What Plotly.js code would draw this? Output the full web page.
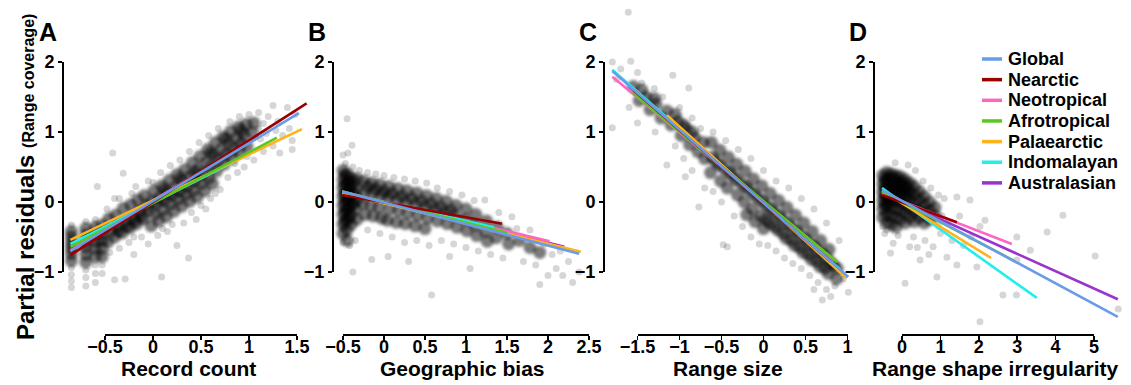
<!DOCTYPE html>
<html><head><meta charset="utf-8">
<script src="https://cdn.plot.ly/plotly-3.0.1.min.js"></script>
<style>html,body{margin:0;padding:0;background:#fff}#chart{width:1131px;height:385px}</style>
</head><body><div id="chart"></div>
<script>
// ---------------- DATA ----------------
const regions = ['Global','Nearctic','Neotropical','Afrotropical','Palaearctic','Indomalayan','Australasian'];
const panelLetters = ['A','B','C','D'];
const xTitles = ['Record count','Geographic bias','Range size','Range shape irregularity'];
const yTitleMain = 'Partial residuals';
const yTitleSub = '(Range coverage)';
const yTicks = [-1, 0, 1, 2];
const xTicksA = [-0.5, 0, 0.5, 1, 1.5];
const xTicksB = [-0.5, 0, 0.5, 1, 1.5, 2, 2.5];
const xTicksC = [-1.5, -1, -0.5, 0, 0.5, 1];
const xTicksD = [0, 1, 2, 3, 4, 5];

// fitted lines: [x start, x end] and [y start, y end] per region (same order as regions)
const fitA_x = [[-0.86,1.52],[-0.86,1.60],[-0.86,1.00],[-0.86,1.29],[-0.86,1.55],[-0.86,0.84],[-0.86,1.10]];
const fitA_y = [[-0.70,1.27],[-0.76,1.41],[-0.69,0.85],[-0.64,0.92],[-0.54,1.04],[-0.60,0.57],[-0.70,0.93]];
const fitB_x = [[-0.51,2.38],[-0.51,1.44],[-0.51,2.02],[-0.51,1.50],[-0.51,2.40],[-0.51,1.34],[-0.51,2.20]];
const fitB_y = [[0.15,-0.74],[0.10,-0.31],[0.14,-0.56],[0.15,-0.44],[0.13,-0.71],[0.13,-0.36],[0.15,-0.64]];
const fitC_x = [[-1.80,1.01],[-1.55,0.80],[-1.80,0.85],[-1.56,0.88],[-1.15,0.99],[-1.80,0.90],[-1.50,0.90]];
const fitC_y = [[1.87,-1.07],[1.60,-0.85],[1.79,-0.84],[1.56,-0.86],[1.24,-1.09],[1.89,-0.95],[1.55,-0.95]];
const fitD_x = [[-0.52,5.62],[-0.52,1.43],[-0.52,2.86],[-0.52,2.92],[-0.52,2.32],[-0.52,3.51],[-0.52,5.62]];
const fitD_y = [[0.17,-1.64],[0.10,-0.29],[0.12,-0.60],[0.15,-0.84],[0.16,-0.80],[0.20,-1.37],[0.13,-1.39]];

// partial residual points (dense core and sparse halo), [x, y]
const coreA = [[-0.85,-0.42],[-0.85,-0.50],[-0.85,-0.58],[-0.85,-0.66],[-0.85,-0.74],[-0.85,-0.84],
[-0.70,-0.38],[-0.70,-0.47],[-0.70,-0.56],[-0.70,-0.65],[-0.70,-0.75],[-0.70,-0.86],
[-0.60,-0.36],[-0.60,-0.46],[-0.60,-0.56],[-0.60,-0.66],[-0.60,-0.78],
[-0.53,-0.33],[-0.53,-0.44],[-0.53,-0.55],[-0.53,-0.66],[-0.53,-0.78],
[-0.46,-0.24],[-0.44,-0.41],[-0.47,-0.57],[-0.39,-0.19],[-0.37,-0.34],[-0.40,-0.50],
[-0.31,-0.09],[-0.29,-0.27],[-0.32,-0.44],[-0.23,-0.04],[-0.21,-0.21],[-0.24,-0.37],
[-0.16,0.03],[-0.14,-0.13],[-0.17,-0.31],[-0.09,0.09],[-0.07,-0.05],[-0.10,-0.24],
[0.01,0.16],[-0.01,0.01],[0.02,-0.17],[-0.02,-0.34],[0.09,0.23],[0.07,0.06],[0.10,-0.11],[0.06,-0.27],
[0.17,0.31],[0.15,0.13],[0.18,-0.03],[0.14,-0.21],[0.25,0.39],[0.23,0.21],[0.26,0.04],[0.22,-0.13],
[0.33,0.46],[0.31,0.29],[0.34,0.11],[0.30,-0.06],[0.41,0.56],[0.39,0.37],[0.42,0.17],[0.38,0.01],
[0.49,0.65],[0.47,0.46],[0.50,0.26],[0.46,0.07],[0.57,0.75],[0.55,0.56],[0.58,0.34],[0.54,0.16],
[0.65,0.85],[0.63,0.67],[0.66,0.44],[0.62,0.26],[0.73,0.93],[0.71,0.75],[0.74,0.54],
[0.81,1.01],[0.79,0.83],[0.82,0.63],[0.89,1.07],[0.87,0.91],[0.90,0.71],
[0.97,1.11],[0.95,0.96],[0.98,0.79],[1.05,1.13],[1.03,0.99],
[-0.36,-0.42],[-0.27,-0.35],[-0.19,-0.27],[-0.12,-0.20],[-0.04,-0.12],[0.04,-0.02],[0.12,0.02],[0.20,0.10],
[0.28,0.15],[0.36,0.22],[0.44,0.30],[0.52,0.40],[0.60,0.50],[0.68,0.60],[0.76,0.68],[0.84,0.76],[0.92,0.84],
[0.12,0.18],[0.28,0.33],[0.44,0.42],[0.60,0.70],[0.76,0.90],[0.92,1.02]];
const haloA = [[-0.85,-0.94],[-0.85,-1.04],[-0.85,-1.13],[-0.85,-1.22],[-0.70,-0.97],[-0.70,-1.08],[-0.70,-1.20],
[-0.60,-0.90],[-0.60,-1.02],[-0.60,-1.15],[-0.53,-0.90],[-0.53,-1.02],[-0.85,-0.33],[-0.70,-0.28],[-0.60,-0.25],
[-0.58,0.22],[-0.42,0.70],[-0.31,0.41],[-0.45,-0.72],[-0.40,-1.11],[-0.29,-1.10],[-0.35,-0.66],
[-0.25,-0.58],[-0.20,-0.75],[-0.12,-0.50],[-0.05,-0.60],[0.09,-1.07],[0.05,-0.48],[0.15,-0.42],[0.25,-0.62],
[0.37,-0.80],[0.32,-0.30],[0.45,-0.25],[0.55,-0.10],[0.60,0.05],[0.70,0.18],[0.78,0.35],[0.88,0.42],
[0.95,0.50],[1.05,0.60],[1.15,0.72],[1.25,0.80],[1.35,0.95],[1.45,0.88],[1.42,1.05],[1.30,1.15],
[1.20,1.22],[1.10,1.28],[1.00,1.25],[0.90,1.22],[0.80,1.15],[0.68,1.05],[0.58,0.95],[0.48,0.85],
[0.38,0.72],[0.28,0.60],[0.18,0.52],[0.08,0.42],[-0.05,0.30],[-0.18,0.22],[-0.35,0.05],
[1.40,1.35],[1.48,1.25],[1.25,1.38],[1.12,0.90],[1.32,0.70],[1.45,0.75],[0.98,0.65],
[-0.48,-0.10],[-0.40,0.05],[-0.22,0.12],[0.00,0.28],[0.20,-0.32],[0.40,-0.15],[0.65,0.12],[0.85,0.55],
[1.10,1.05],[1.18,0.98],[1.28,1.02],[1.15,1.12],[-0.20,-0.50],[0.10,-0.38],[0.50,-0.05]];

const coreB = [[-0.50,0.45],[-0.50,0.32],[-0.50,0.20],[-0.50,0.08],[-0.50,-0.05],[-0.50,-0.18],[-0.50,-0.32],[-0.50,-0.45],
[-0.45,0.40],[-0.45,0.27],[-0.45,0.14],[-0.45,0.02],[-0.45,-0.12],[-0.45,-0.26],[-0.45,-0.40],[-0.45,-0.55],
[-0.40,0.35],[-0.40,0.22],[-0.40,0.09],[-0.40,-0.04],[-0.40,-0.18],[-0.40,-0.32],
[-0.33,0.33],[-0.34,0.18],[-0.32,0.04],[-0.35,-0.10],[-0.33,-0.25],
[-0.25,0.30],[-0.24,0.14],[-0.26,-0.02],[-0.23,-0.18],[-0.15,0.27],[-0.14,0.12],[-0.16,-0.04],[-0.13,-0.20],
[-0.05,0.25],[-0.04,0.09],[-0.06,-0.07],[-0.03,-0.23],[0.06,0.22],[0.05,0.06],[0.07,-0.10],[0.04,-0.26],
[0.17,0.19],[0.16,0.03],[0.18,-0.13],[0.15,-0.29],[0.28,0.16],[0.27,0.00],[0.29,-0.16],[0.26,-0.31],
[0.40,0.13],[0.39,-0.03],[0.41,-0.19],[0.38,-0.34],[0.52,0.09],[0.51,-0.07],[0.53,-0.23],[0.50,-0.38],
[0.64,0.05],[0.63,-0.11],[0.65,-0.27],[0.76,0.01],[0.75,-0.15],[0.77,-0.31],
[0.88,-0.05],[0.87,-0.20],[0.89,-0.36],[1.00,-0.10],[0.99,-0.25],[1.01,-0.41],
[1.12,-0.18],[1.11,-0.33],[1.13,-0.48],[1.25,-0.27],[1.24,-0.42],[1.26,-0.56],
[1.38,-0.36],[1.37,-0.51],[1.50,-0.45],[1.52,-0.60],[1.65,-0.55],[1.78,-0.65],[1.90,-0.72],
[-0.48,0.38],[-0.48,0.25],[-0.48,0.12],[-0.48,-0.01],[-0.48,-0.14],[-0.48,-0.28],[-0.43,0.30],[-0.43,0.17],
[-0.43,0.05],[-0.43,-0.08],[-0.43,-0.22],[-0.37,0.28],[-0.37,0.12],[-0.37,-0.02],[-0.20,0.22],[-0.10,0.18],
[0.00,0.15],[0.10,0.12],[0.22,0.08],[0.34,0.05],[0.46,0.01],[0.58,-0.03],[0.70,-0.08],[0.82,-0.12]];
const haloB = [[-0.45,1.19],[-0.39,0.81],[-0.50,0.67],[-0.44,0.70],[-0.47,0.55],[-0.38,0.50],
[-0.50,-0.58],[-0.42,-0.62],[-0.38,-1.00],[-0.35,-0.55],[-0.30,0.45],[-0.20,0.42],
[-0.10,0.40],[0.00,0.38],[0.12,0.35],[0.25,0.33],[0.38,0.30],[0.52,0.27],[0.65,0.20],
[0.80,0.15],[0.95,0.10],[1.10,0.02],[1.23,0.03],[1.56,-0.21],[1.40,-0.15],
[-0.20,-0.40],[-0.05,-0.45],[0.10,-0.50],[0.25,-0.58],[0.40,-0.55],[0.55,-0.62],
[0.70,-0.55],[0.85,-0.60],[1.00,-0.65],[1.15,-0.70],[1.30,-0.75],[1.45,-0.80],
[0.58,-1.33],[-0.15,-0.82],[0.05,-0.78],[0.30,-0.85],[0.80,-0.78],[1.05,-0.95],
[1.62,-0.38],[1.78,-0.40],[1.70,-0.85],[1.85,-0.90],[1.95,-0.60],[2.05,-0.75],
[2.10,-0.95],[2.18,-1.05],[2.25,-0.85],[2.30,-1.15],[2.38,-1.00],[2.00,-1.05],[1.90,-1.18],[2.15,-0.70]];

const coreC = [[-1.55,1.65],[-1.48,1.45],[-1.40,1.50],[-1.35,1.32],[-1.28,1.40],[-1.22,1.20],[-1.15,1.30],[-1.10,1.10],
[-1.02,1.15],[-0.98,0.95],[-0.92,1.05],[-0.88,0.82],[-0.82,0.92],[-0.78,0.72],[-0.72,0.85],[-0.70,0.62],
[-0.62,0.85],[-0.61,0.64],[-0.63,0.42],[-0.52,0.74],[-0.53,0.53],[-0.51,0.30],
[-0.42,0.64],[-0.41,0.43],[-0.43,0.20],[-0.32,0.54],[-0.33,0.32],[-0.31,0.10],
[-0.22,0.44],[-0.21,0.22],[-0.23,0.00],[-0.20,-0.18],[-0.12,0.33],[-0.11,0.11],[-0.13,-0.10],[-0.10,-0.28],
[-0.02,0.23],[-0.01,0.01],[-0.03,-0.20],[0.00,-0.38],[0.08,0.12],[0.09,-0.10],[0.07,-0.30],
[0.18,0.02],[0.19,-0.20],[0.17,-0.40],[0.28,-0.08],[0.29,-0.31],[0.27,-0.52],
[0.38,-0.19],[0.39,-0.41],[0.37,-0.62],[0.48,-0.30],[0.49,-0.52],[0.47,-0.72],
[0.58,-0.42],[0.59,-0.62],[0.57,-0.82],[0.68,-0.55],[0.69,-0.73],[0.67,-0.92],
[0.78,-0.68],[0.79,-0.85],[0.77,-1.02],[0.88,-0.95],[0.87,-1.10],
[-0.57,0.58],[-0.47,0.48],[-0.37,0.38],[-0.27,0.27],[-0.17,0.17],[-0.07,0.06],[0.03,-0.05],[0.13,-0.15],
[0.23,-0.25],[0.33,-0.36],[0.43,-0.46],[0.53,-0.57],[0.63,-0.68],[0.73,-0.78],[0.83,-0.90],
[0.03,-0.25],[0.13,-0.35],[0.23,-0.45],[0.33,-0.55],[0.43,-0.65],[0.53,-0.75],[0.63,-0.85],[0.73,-0.95],
[-1.45,1.60],[-1.30,1.48],[-1.05,1.25],[-0.85,1.00],[-0.95,1.10]];
const haloC = [[-1.61,2.71],[-1.80,2.00],[-1.58,2.01],[-1.80,1.06],[-1.08,1.81],[-0.89,1.63],[-1.75,1.75],[-1.70,1.90],
[-1.50,1.85],[-1.45,1.70],[-1.60,1.35],[-1.50,1.13],[-1.29,1.00],[-1.15,0.53],[-0.93,0.36],[-1.30,1.62],
[-1.20,1.50],[-1.00,1.35],[-0.85,1.20],[-0.75,1.05],[-0.60,1.00],[-0.45,0.88],[-0.30,0.75],[-0.15,0.62],
[0.00,0.45],[0.15,0.30],[0.30,0.20],[0.45,0.05],[0.60,-0.10],[0.75,-0.30],[0.90,-0.55],
[-1.05,0.80],[-0.95,0.62],[-0.85,0.45],[-0.77,-0.07],[-0.70,0.20],[-0.60,0.15],[-0.50,0.00],[-0.48,-0.61],
[-0.43,-0.64],[-0.35,-0.20],[-0.25,-0.35],[-0.15,-0.50],[-0.05,-0.60],[0.05,-0.62],[0.15,-0.70],[0.25,-0.80],
[0.35,-0.88],[0.45,-0.95],[0.55,-1.05],[0.65,-1.15],[0.70,-1.40],[0.75,-1.25],[0.85,-1.20],[1.01,-1.29],
[0.95,-1.10],[0.60,-1.25],[0.80,-1.35]];

const coreD = [[-0.50,0.38],[-0.50,0.26],[-0.50,0.14],[-0.50,0.02],[-0.50,-0.10],[-0.50,-0.22],
[-0.40,0.42],[-0.40,0.30],[-0.40,0.18],[-0.40,0.06],[-0.40,-0.06],[-0.40,-0.18],[-0.40,-0.30],
[-0.28,0.40],[-0.28,0.28],[-0.28,0.16],[-0.28,0.04],[-0.28,-0.08],[-0.28,-0.20],[-0.28,-0.32],
[-0.16,0.38],[-0.16,0.26],[-0.16,0.14],[-0.16,0.02],[-0.16,-0.10],[-0.16,-0.22],[-0.16,-0.36],
[-0.04,0.36],[-0.04,0.24],[-0.04,0.12],[-0.04,0.00],[-0.04,-0.12],[-0.04,-0.25],
[0.08,0.32],[0.08,0.20],[0.08,0.08],[0.08,-0.04],[0.08,-0.16],[0.08,-0.30],
[0.20,0.27],[0.20,0.15],[0.20,0.03],[0.20,-0.09],[0.20,-0.22],
[0.32,0.22],[0.32,0.10],[0.32,-0.02],[0.32,-0.14],[0.32,-0.28],
[0.45,0.15],[0.45,0.03],[0.45,-0.10],[0.45,-0.22],[0.58,0.08],[0.58,-0.04],[0.58,-0.16],[0.58,-0.30],
[0.72,0.00],[0.72,-0.12],[0.72,-0.25],[0.86,-0.08],[0.86,-0.20],
[-0.45,0.32],[-0.45,0.20],[-0.45,0.08],[-0.45,-0.04],[-0.34,0.35],[-0.34,0.22],[-0.34,0.10],[-0.34,-0.02],
[-0.22,0.34],[-0.22,0.21],[-0.22,0.09],[-0.10,0.30],[-0.10,0.18],[-0.10,0.06],[0.02,0.28],[0.02,0.15],[0.14,0.22],[0.14,0.10]];
const haloD = [[0.16,0.53],[-0.18,0.56],[0.35,0.45],[0.55,0.30],[0.75,0.20],[0.95,0.10],[1.10,0.05],[1.43,0.07],
[1.77,0.03],[2.16,-0.26],[2.99,-0.50],[3.78,-0.43],[4.19,-0.19],[5.03,-0.77],[5.63,-1.53],[2.03,-1.71],
[0.08,-1.16],[2.63,-1.33],[2.98,-1.33],[1.17,-0.79],[1.43,-0.90],[0.91,-1.07],[1.95,-0.93],[0.81,-0.64],
[0.47,-0.83],[0.20,-0.64],[-0.23,-0.59],[-0.30,-0.73],[2.03,-0.35],[2.99,-0.83],[3.34,-0.69],[-0.45,-0.45],
[-0.10,-0.48],[0.30,-0.50],[0.60,-0.55],[1.00,-0.45],[1.20,-0.30],[1.30,-0.55],[1.60,-0.62],[1.80,-0.50],
[1.05,-0.20],[0.95,-0.35],[1.50,-0.20],[0.70,-0.75],[0.40,-0.65],[-0.40,-0.40],[-0.50,-0.35]];

// ---------------- STYLE / LAYOUT ----------------
const regionColors = ['#6a9be8','#990000','#ff66c4','#5cc81e','#ffb21a','#22eeee','#9a35cc'];
const drawOrder = [6,2,5,4,3,1,0];
const FONT = 'Liberation Sans, Arial, sans-serif';
const W = 1131, H = 385;
const Y0PX = 202, YS = 70, YTOP = 6, YBOT = 334;

const panels = [
  {x0px:153,   xs:96,   left:62,  right:312,  ticks:xTicksA, core:coreA, halo:haloA, fx:fitA_x, fy:fitA_y, letterX:48,  titleX:188},
  {x0px:384,   xs:82,   left:332, right:592,  ticks:xTicksB, core:coreB, halo:haloB, fx:fitB_x, fy:fitB_y, letterX:317, titleX:462},
  {x0px:763.5, xs:84,   left:603, right:868,  ticks:xTicksC, core:coreC, halo:haloC, fx:fitC_x, fy:fitC_y, letterX:588, titleX:728},
  {x0px:902,   xs:38.4, left:873, right:1128, ticks:xTicksD, core:coreD, halo:haloD, fx:fitD_x, fy:fitD_y, letterX:858, titleX:995}
];

const traces = [];
const layout = {
  width: W, height: H, margin:{l:0,r:0,t:0,b:0},
  paper_bgcolor:'#fff', plot_bgcolor:'rgba(0,0,0,0)',
  showlegend:false, font:{family:FONT, color:'#000'},
  annotations:[], shapes:[]
};

panels.forEach((p, i) => {
  const n = i + 1, d = i + 5;
  const xa = 'x' + n, ya = 'y' + n;
  traces.push({type:'scatter', mode:'markers', xaxis:xa, yaxis:ya, meta:'halo',
    x:p.halo.map(v=>v[0]), y:p.halo.map(v=>v[1]), hoverinfo:'skip',
    marker:{size:7, color:'rgba(0,0,0,0.16)', line:{width:0}}});
  traces.push({type:'scatter', mode:'markers', xaxis:xa, yaxis:ya, meta:'core',
    x:p.core.map(v=>v[0]), y:p.core.map(v=>v[1]), hoverinfo:'skip',
    marker:{size:13, color:'rgba(0,0,0,0.52)', line:{width:0}}});
  drawOrder.forEach(r => {
    traces.push({type:'scatter', mode:'lines', xaxis:xa, yaxis:ya, name:regions[r],
      x:p.fx[r], y:p.fy[r], line:{color:regionColors[r], width:2.6}, hoverinfo:'skip'});
  });
  traces.push({type:'scatter', mode:'markers', xaxis:'x'+d, yaxis:'y'+d, x:[], y:[], hoverinfo:'skip'});

  layout['xaxis'+n] = {domain:[p.left/W, p.right/W], range:[(p.left-p.x0px)/p.xs, (p.right-p.x0px)/p.xs],
    visible:false, anchor:ya, fixedrange:true};
  layout['yaxis'+n] = {domain:[(H-YBOT)/H, (H-YTOP)/H], range:[(Y0PX-YBOT)/YS, (Y0PX-YTOP)/YS],
    visible:false, anchor:xa, fixedrange:true};
  const t0 = p.ticks[0], t1 = p.ticks[p.ticks.length-1];
  const common = {showline:true, linewidth:1.5, linecolor:'#000', ticks:'outside', ticklen:4, tickwidth:1.5,
    tickcolor:'#000', showgrid:false, zeroline:false, fixedrange:true,
    tickfont:{family:FONT, size:18, color:'#000', weight:'bold'}};
  layout['xaxis'+d] = Object.assign({}, common, {
    domain:[(p.x0px+t0*p.xs)/W, (p.x0px+t1*p.xs)/W], range:[t0, t1], tickvals:p.ticks,
    anchor:'free', position:(H-YBOT)/H, ticklabelstandoff:-8});
  layout['yaxis'+d] = Object.assign({}, common, {
    domain:[(H-(Y0PX+YS))/H, (H-(Y0PX-2*YS))/H], range:[-1, 2], tickvals:yTicks,
    anchor:'free', position:p.left/W});

  layout.annotations.push({xref:'paper', yref:'paper', x:p.letterX/W, y:(H-32)/H, xanchor:'center', yanchor:'middle',
    text:panelLetters[i], showarrow:false, font:{family:FONT, size:25, weight:'bold', color:'#000'}});
  layout.annotations.push({xref:'paper', yref:'paper', x:p.titleX/W, y:(H-368)/H, xanchor:'center', yanchor:'middle',
    text:xTitles[i], showarrow:false, font:{family:FONT, size:21, weight:'bold', color:'#000'}});
});

layout.annotations.push({xref:'paper', yref:'paper', x:25/W, y:(H-177)/H, xanchor:'center', yanchor:'middle',
  textangle:-90, showarrow:false,
  text: yTitleMain + ' <span style="font-size:16px">' + yTitleSub + '</span>',
  font:{family:FONT, size:24, weight:'bold', color:'#000'}});

regions.forEach((r, k) => {
  const yy = 59 + k*20.65;
  layout.shapes.push({type:'line', xref:'paper', yref:'paper', x0:982/W, x1:1002/W, y0:(H-yy)/H, y1:(H-yy)/H,
    line:{color:regionColors[k], width:3.5}});
  layout.annotations.push({xref:'paper', yref:'paper', x:1006/W, y:(H-yy)/H, xanchor:'left', yanchor:'middle',
    text:r, showarrow:false, font:{family:FONT, size:18, weight:'bold', color:'#000'}});
});

Plotly.newPlot('chart', traces, layout, {displayModeBar:false, staticPlot:true}).then(gd => {
  // soften the dense point clouds so overlapping markers read as a smooth density
  gd.querySelectorAll('g.trace.scatter').forEach(el => {
    const cd = el.__data__;
    const t = cd && cd[0] && cd[0].trace;
    if (t && t.meta === 'core') el.style.filter = 'blur(1.8px)';
  });
});
</script></body></html>
